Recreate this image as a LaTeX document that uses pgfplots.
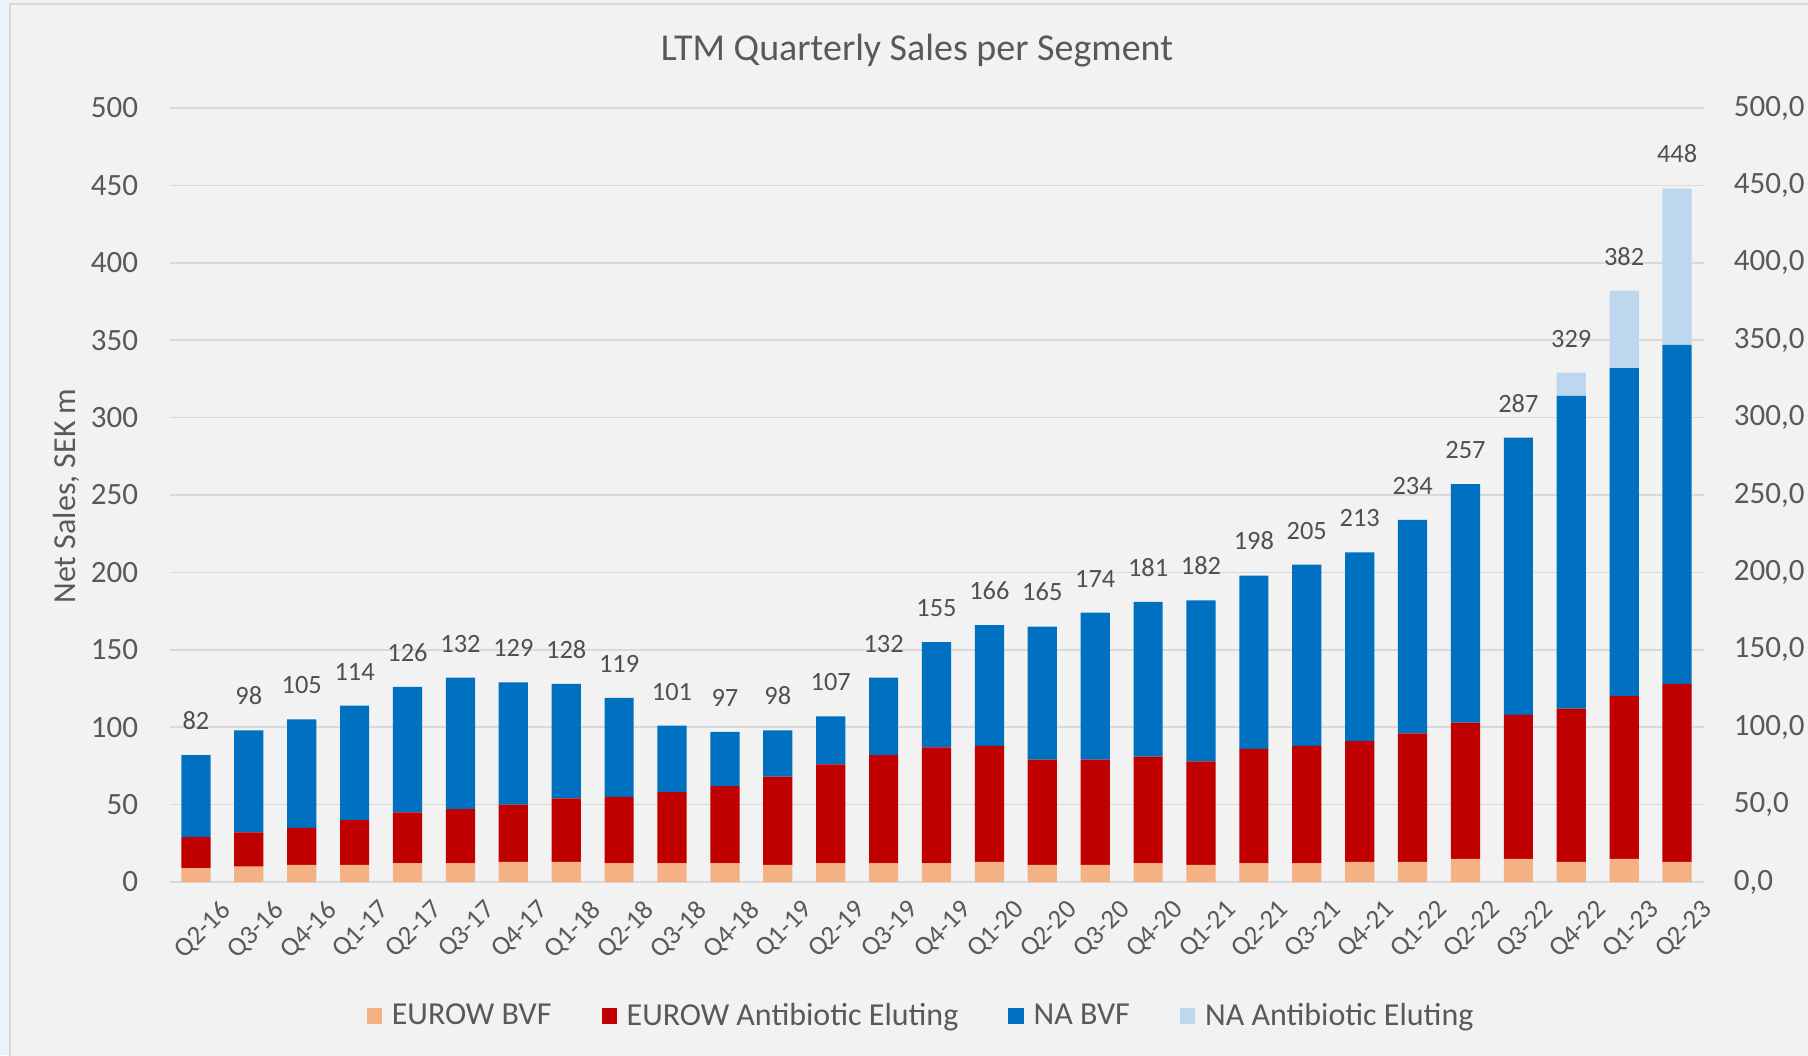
\documentclass[border=0pt]{standalone}
\usepackage{pgfplots}
\pgfplotsset{compat=1.18}
\usepackage{pgfplotstable}
\usepackage{fontspec}
\setmainfont{Carlito}

\definecolor{bgc}{HTML}{F2F2F2}
\definecolor{edgec}{HTML}{EAF2FA}
\definecolor{gridc}{HTML}{D9D9D9}
\definecolor{txtc}{HTML}{595959}
\definecolor{lblc}{HTML}{505050}
\definecolor{c1}{HTML}{F4B183}
\definecolor{c2}{HTML}{C00000}
\definecolor{c3}{HTML}{0070C0}
\definecolor{c4}{HTML}{BDD7EE}

\pgfplotstableread{
x q eb ea nb na total
0 Q2-16 9 20 53 0 82
1 Q3-16 10 22 66 0 98
2 Q4-16 11 24 70 0 105
3 Q1-17 11 29 74 0 114
4 Q2-17 12 33 81 0 126
5 Q3-17 12 35 85 0 132
6 Q4-17 13 37 79 0 129
7 Q1-18 13 41 74 0 128
8 Q2-18 12 43 64 0 119
9 Q3-18 12 46 43 0 101
10 Q4-18 12 50 35 0 97
11 Q1-19 11 57 30 0 98
12 Q2-19 12 64 31 0 107
13 Q3-19 12 70 50 0 132
14 Q4-19 12 75 68 0 155
15 Q1-20 13 75 78 0 166
16 Q2-20 11 68 86 0 165
17 Q3-20 11 68 95 0 174
18 Q4-20 12 69 100 0 181
19 Q1-21 11 67 104 0 182
20 Q2-21 12 74 112 0 198
21 Q3-21 12 76 117 0 205
22 Q4-21 13 78 122 0 213
23 Q1-22 13 83 138 0 234
24 Q2-22 15 88 154 0 257
25 Q3-22 15 93 179 0 287
26 Q4-22 13 99 202 15 329
27 Q1-23 15 105 212 50 382
28 Q2-23 13 115 219 101 448
}\data

\begin{document}
\begin{tikzpicture}
\fill[edgec] (0,0) rectangle (904pt,527.5pt);
\filldraw[fill=bgc, draw=gridc, line width=0.8pt] (5pt,-5pt) rectangle (910pt,525.5pt);

\begin{axis}[
  at={(84.75pt,86.5pt)}, anchor=south west,
  scale only axis, width=767pt, height=387pt,
  ybar stacked, bar width=14.6pt,
  xmin=-0.5, xmax=28.5, ymin=0, ymax=500,
  ytick={0,50,...,500},
  xtick=data, xticklabels from table={\data}{q},
  ymajorgrids, grid style={gridc, line width=0.8pt},
  axis line style={draw=none},
  major tick length=0pt,
  /pgf/number format/assume math mode=true,
  tick label style={text=txtc},
  yticklabel style={font=\fontsize{15.5}{18}\selectfont, inner sep=0pt, xshift=-15.5pt},
  xticklabel style={font=\fontsize{13.5}{15}\selectfont, rotate=45, anchor=north east, inner sep=0pt, yshift=-14pt, xshift=2.5pt},
  legend style={at={(0.4906,-0.1731)}, anchor=center, draw=none, fill=none,
    legend columns=4, font=\fontsize{16}{18}\selectfont, text=txtc,
    /tikz/every even column/.append style={column sep=23pt},
    /tikz/every odd column/.append style={column sep=3pt}},
  legend image code/.code={\fill[#1] (0pt,-3.8pt) rectangle (7.6pt,3.8pt);},
  clip=false,
]
\addplot[fill=c1, draw=none] table[x=x, y=eb]{\data};
\addlegendentry{EUROW BVF}
\addplot[fill=c2, draw=none] table[x=x, y=ea]{\data};
\addlegendentry{EUROW Antibiotic Eluting}
\addplot[fill=c3, draw=none] table[x=x, y=nb]{\data};
\addlegendentry{NA BVF}
\addplot[fill=c4, draw=none] table[x=x, y=na]{\data};
\addlegendentry{NA Antibiotic Eluting}
\end{axis}

\begin{axis}[
  at={(84.75pt,86.5pt)}, anchor=south west,
  scale only axis, width=767pt, height=387pt,
  xmin=-0.5, xmax=28.5, ymin=0, ymax=500,
  ytick={0,50,...,500},
  axis y line*=right, axis x line=none,
  axis line style={draw=none},
  major tick length=0pt,
  yticklabel={\pgfmathprintnumber[fixed,fixed zerofill,precision=1,use comma,assume math mode=true]{\tick}},
  yticklabel style={font=\fontsize{15.5}{18}\selectfont, text=txtc, inner sep=0pt, xshift=15pt},
  clip=false,
]
\addplot[draw=none, mark=none, point meta=explicit,
  nodes near coords={\pgfmathprintnumber[assume math mode=true]{\pgfplotspointmeta}},
  nodes near coords style={font=\fontsize{13.2}{15}\selectfont, text=lblc, anchor=south, inner sep=0pt, yshift=12.5pt}]
  table[x=x, y=total, meta=total]{\data};
\end{axis}

\node[font=\fontsize{19}{22}\selectfont, text=txtc] at (458.5pt,502pt) {LTM Quarterly Sales per Segment};
\node[rotate=90, font=\fontsize{16}{18}\selectfont, text=txtc] at (33pt,279.5pt) {Net Sales, SEK m};

\pgfresetboundingbox
\path[use as bounding box] (0,0) rectangle (904pt,527.5pt);
\end{tikzpicture}
\end{document}
